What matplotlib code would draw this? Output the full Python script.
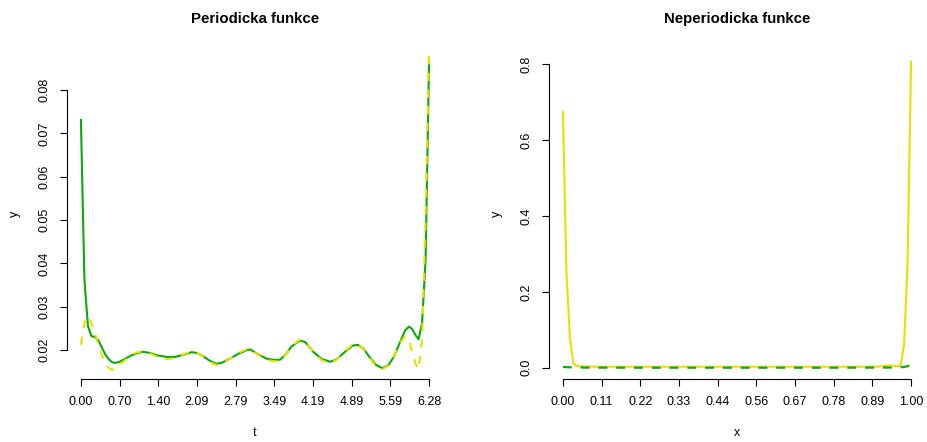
import matplotlib
matplotlib.use("Agg")
import matplotlib.pyplot as plt

plt.rcParams['font.family'] = ['Liberation Sans', 'DejaVu Sans']

# ---------------- data: periodic function ----------------
t_vals = [0.000, 0.063, 0.127, 0.190, 0.254, 0.317, 0.380, 0.440, 0.500, 0.560,
          0.620, 0.700, 0.800, 0.900, 1.000, 1.120, 1.250, 1.400, 1.550, 1.700,
          1.850, 2.000, 2.100, 2.200, 2.330, 2.450, 2.550, 2.700, 2.850, 3.000,
          3.060, 3.200, 3.350, 3.500, 3.600, 3.700, 3.800, 3.950, 4.050, 4.200,
          4.350, 4.500, 4.600, 4.750, 4.900, 5.000, 5.100, 5.200, 5.320, 5.440,
          5.550, 5.650, 5.750, 5.850, 5.920, 5.980, 6.040, 6.094, 6.157, 6.220,
          6.283]
per_green = [0.0731, 0.0362, 0.0255, 0.0232, 0.0230, 0.0222, 0.0205, 0.0190, 0.0179, 0.0172,
             0.0170, 0.0173, 0.0180, 0.0187, 0.0192, 0.0196, 0.0193, 0.0187, 0.0184, 0.0184,
             0.0189, 0.0195, 0.0193, 0.0186, 0.0175, 0.0168, 0.0171, 0.0181, 0.0192, 0.0200,
             0.0201, 0.0190, 0.0180, 0.0177, 0.0178, 0.0190, 0.0208, 0.0222, 0.0218, 0.0195,
             0.0179, 0.0173, 0.0177, 0.0194, 0.0210, 0.0212, 0.0203, 0.0185, 0.0166, 0.0158,
             0.0165, 0.0185, 0.0215, 0.0245, 0.0254, 0.0248, 0.0234, 0.0225, 0.0262, 0.0408,
             0.0865]
per_yellow = [0.0212, 0.0262, 0.0278, 0.0262, 0.0238, 0.0212, 0.0188, 0.0170, 0.0159, 0.0154,
              0.0157, 0.0166, 0.0177, 0.0188, 0.0194, 0.0197, 0.0192, 0.0183, 0.0179, 0.0181,
              0.0190, 0.0197, 0.0194, 0.0185, 0.0172, 0.0165, 0.0169, 0.0181, 0.0194, 0.0202,
              0.0203, 0.0189, 0.0177, 0.0174, 0.0177, 0.0190, 0.0209, 0.0224, 0.0219, 0.0194,
              0.0176, 0.0171, 0.0176, 0.0195, 0.0213, 0.0214, 0.0202, 0.0183, 0.0163, 0.0156,
              0.0164, 0.0186, 0.0215, 0.0232, 0.0222, 0.0195, 0.0168, 0.0155, 0.0225, 0.0500,
              0.0889]

t_ticks = [0.0, 0.698, 1.396, 2.094, 2.793, 3.491, 4.189, 4.887, 5.585, 6.283]
t_tick_labels = ["0.00", "0.70", "1.40", "2.09", "2.79", "3.49", "4.19", "4.89", "5.59", "6.28"]
per_yticks = [0.02, 0.03, 0.04, 0.05, 0.06, 0.07, 0.08]
per_ytick_labels = ["0.02", "0.03", "0.04", "0.05", "0.06", "0.07", "0.08"]

# ---------------- data: non-periodic function ----------------
x_vals = [0.00, 0.01, 0.02, 0.03, 0.04, 0.05, 0.07, 0.10, 0.20, 0.30, 0.40, 0.50,
          0.60, 0.70, 0.80, 0.90, 0.94, 0.96, 0.97, 0.98, 0.99, 1.00]
nper_yellow = [0.675, 0.255, 0.078, 0.012, 0.004, 0.004, 0.003, 0.0025, 0.0025, 0.0025, 0.0025, 0.0025,
               0.0025, 0.0025, 0.0025, 0.0025, 0.006, 0.004, 0.005, 0.062, 0.275, 0.807]
nper_green = [0.002, 0.0015, 0.001, 0.0008, 0.0005, 0.0005, 0.0003, 0.0002, 0.0, 0.0, 0.0, 0.0,
              0.0, 0.0, 0.0, 0.0003, 0.0005, 0.0008, 0.001, 0.002, 0.004, 0.008]

x_ticks = [0.0, 0.111, 0.222, 0.333, 0.444, 0.556, 0.667, 0.778, 0.889, 1.0]
x_tick_labels = ["0.00", "0.11", "0.22", "0.33", "0.44", "0.56", "0.67", "0.78", "0.89", "1.00"]
nper_yticks = [0.0, 0.2, 0.4, 0.6, 0.8]
nper_ytick_labels = ["0.0", "0.2", "0.4", "0.6", "0.8"]

GREEN = "#0aaa0a"
YELLOW = "#e8e000"

W, H = 927, 442
fig = plt.figure(figsize=(W / 100, H / 100), dpi=100)

def px_axes(x0, x1, y0, y1):
    return fig.add_axes([x0 / W, 1 - y1 / H, (x1 - x0) / W, (y1 - y0) / H])

ax1 = px_axes(67, 443, 49.4, 379)
ax2 = px_axes(549, 925, 49.4, 379)

ax1.plot(t_vals, per_green, color=GREEN, lw=1.5, solid_joinstyle='round')
ax1.plot(t_vals, per_yellow, color=YELLOW, lw=1.5, linestyle=(0, (4, 4)))
ax1.set_xlim(-0.2513, 6.5345)
ax1.set_ylim(0.01331, 0.08937)

ax2.plot(x_vals, nper_yellow, color=YELLOW, lw=1.5)
ax2.plot(x_vals, nper_green, color=GREEN, lw=1.6, linestyle=(0, (4, 4)))
ax2.set_xlim(-0.04, 1.04)
ax2.set_ylim(-0.0298, 0.8393)

def style(ax, xt, xtl, yt, ytl, xb, yb):
    for s in ("top", "right"):
        ax.spines[s].set_visible(False)
    for s in ("left", "bottom"):
        ax.spines[s].set_linewidth(0.8)
    ax.spines["bottom"].set_bounds(*xb)
    ax.spines["left"].set_bounds(*yb)
    ax.set_xticks(xt)
    ax.set_xticklabels(xtl)
    ax.set_yticks(yt)
    ax.set_yticklabels(ytl, rotation=90, va="center")
    ax.tick_params(axis="both", direction="out", length=5.2, width=0.8,
                   labelsize=9, colors="black")
    ax.tick_params(axis="x", pad=7)
    ax.tick_params(axis="y", pad=7)
    ax.set_facecolor("none")

style(ax1, t_ticks, t_tick_labels, per_yticks, per_ytick_labels, (0, 6.283), (0.02, 0.08))
style(ax2, x_ticks, x_tick_labels, nper_yticks, nper_ytick_labels, (0, 1.0), (0.0, 0.8))

def ftext(x, y, s, **kw):
    fig.text(x / W, 1 - y / H, s, ha="center", va="center", **kw)

ftext(255, 19, "Periodicka funkce", fontsize=10.8, fontweight="bold")
ftext(737, 19, "Neperiodicka funkce", fontsize=10.8, fontweight="bold")
ftext(255, 433, "t", fontsize=9)
ftext(737, 433, "x", fontsize=9)
ftext(15, 214, "y", fontsize=9, rotation=90)
ftext(497, 214, "y", fontsize=9, rotation=90)

fig.savefig("out.png", dpi=100, facecolor="white")
